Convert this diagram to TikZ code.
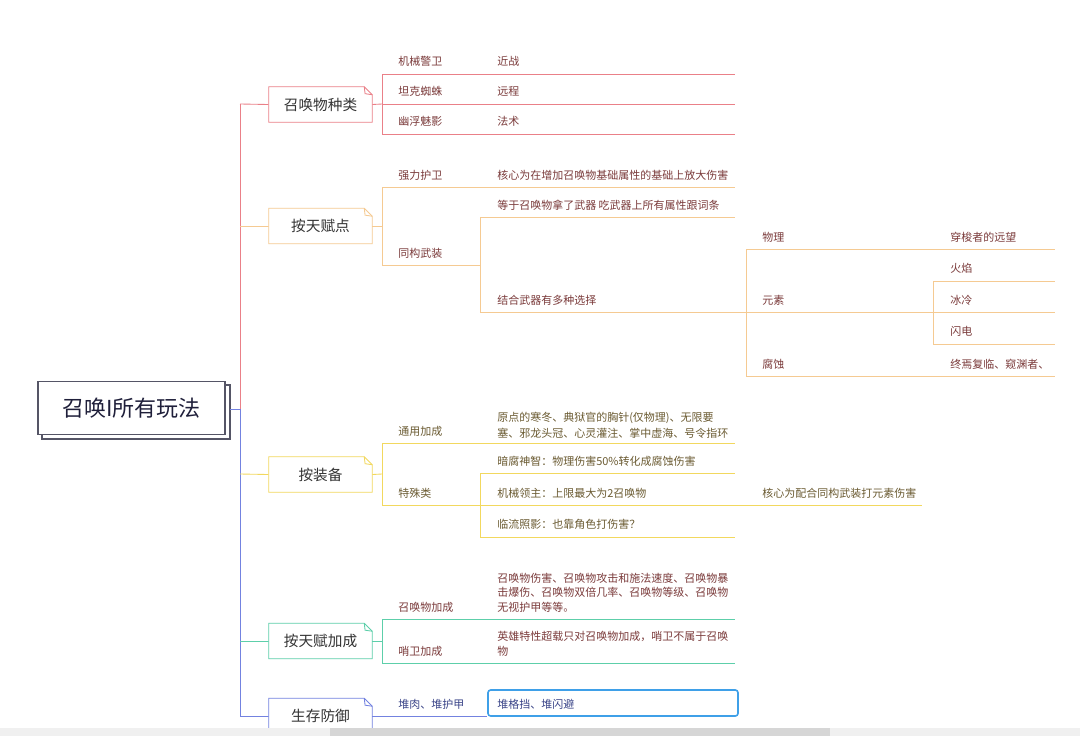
\documentclass[tikz,border=0pt]{standalone}
\usepackage{fontspec}
\newfontfamily\cjk{Noto Sans CJK SC}
\definecolor{cR}{HTML}{EA8088}
\definecolor{cO}{HTML}{F5CA92}
\definecolor{cY}{HTML}{F2D85E}
\definecolor{cG}{HTML}{5DCFAA}
\definecolor{cB}{HTML}{7382E0}
\definecolor{tR}{HTML}{7B3B3B}
\definecolor{tY}{HTML}{6B5B32}
\definecolor{tB}{HTML}{3A4488}
\definecolor{tK}{HTML}{333333}
\definecolor{rootB}{HTML}{555566}
\definecolor{rootT}{HTML}{1F1F3A}
\definecolor{sel}{HTML}{3FA0E8}
\definecolor{sbL}{HTML}{F0F0F0}
\definecolor{sbD}{HTML}{D6D6D6}
\tikzset{
  ln/.style={line width=0.65pt},
  lbl/.style={anchor=west, inner sep=0pt, font=\cjk\fontsize{8.25pt}{11.25pt}\selectfont},
  brtext/.style={inner sep=0pt, minimum width=77.25pt, minimum height=26.25pt, font=\cjk\fontsize{11pt}{13pt}\selectfont, text=tK},
}
\newcommand{\notebox}[2]{%
  \draw[ln,#2,fill=white] (#1.north west) -- ([xshift=-6pt]#1.north east) -- ([yshift=-6pt]#1.north east) -- (#1.south east) -- (#1.south west) -- cycle;
  \draw[ln,#2] ([xshift=-6pt]#1.north east) -- ([xshift=-5.4pt,yshift=-5.2pt]#1.north east) -- ([yshift=-6pt]#1.north east);
}
\begin{document}
\begin{tikzpicture}[x=0.75pt,y=-0.75pt]
\useasboundingbox[fill=white] (0,0) rectangle (1080,736);

% ---------- root ----------
\draw[line width=0.8pt, rootB, fill=white] (42,385) rectangle (230,439);
\node[draw=rootB, line width=0.8pt, fill=white, minimum width=140.25pt, minimum height=39.75pt, inner sep=0pt,
      font=\cjk\fontsize{16.5pt}{19pt}\selectfont, text=rootT] (root) at (131.5,408) {召唤I所有玩法};
\coordinate (rootR) at (230,409);
\coordinate (sp) at (240,409);
\coordinate (spTop) at (240,104);
\coordinate (spBot) at (240,716);
\draw[ln,cB] (rootR) -- (sp);
\draw[ln,cR] (sp) -- (spTop);
\draw[ln,cB] (sp) -- (spBot);

% ---------- branch boxes ----------
\node[brtext] (b1) at (320.5,104.5) {召唤物种类};
\node[brtext] (b2) at (320.5,226) {按天赋点};
\node[brtext] (b3) at (320.5,474.5) {按装备};
\node[brtext] (b4) at (320.5,641) {按天赋加成};
\node[brtext] (b5) at (320.5,716) {生存防御};
\draw[ln,cR] (spTop) -- (b1.west);
\draw[ln,cO] (240,226) -- (b2.west);
\draw[ln,cY] (240,474) -- (b3.west);
\draw[ln,cG] (240,641) -- (b4.west);
\draw[ln,cB] (spBot) -- (b5.west);
\notebox{b1}{cR}
\notebox{b2}{cO}
\notebox{b3}{cY}
\notebox{b4}{cG}
\notebox{b5}{cB}
\node[brtext] at (b1) {召唤物种类};
\node[brtext] at (b2) {按天赋点};
\node[brtext] at (b3) {按装备};
\node[brtext] at (b4) {按天赋加成};
\node[brtext] at (b5) {生存防御};

% ---------- branch 1: red ----------
\coordinate (r1) at (382,74);
\coordinate (r2) at (382,104);
\coordinate (r3) at (382,134);
\draw[ln,cR] (b1.east) -- (r2);
\draw[ln,cR] (r1) -- (r3);
\draw[ln,cR] (r1) -- (735,74);
\draw[ln,cR] (r2) -- (735,104);
\draw[ln,cR] (r3) -- (735,134);
\node[lbl,text=tR] (n11) at (398,61) {机械警卫};
\node[lbl,text=tR] (n12) at (398,91) {坦克蜘蛛};
\node[lbl,text=tR] (n13) at (398,121) {幽浮魅影};
\node[lbl,text=tR] (n111) at (497,61) {近战};
\node[lbl,text=tR] (n121) at (497,91) {远程};
\node[lbl,text=tR] (n131) at (497,121) {法术};

% ---------- branch 2: orange ----------
\coordinate (o1) at (382,187);
\coordinate (o2) at (382,265);
\draw[ln,cO] (b2.east) -- (382,226);
\draw[ln,cO] (o1) -- (o2);
\draw[ln,cO] (o1) -- (735,187);
\node[lbl,text=tR] (n21) at (398,175) {强力护卫};
\node[lbl,text=tR] (n211) at (497,175) {核心为在增加召唤物基础属性的基础上放大伤害};
\coordinate (o3) at (480,265);
\draw[ln,cO] (o2) -- (o3);
\node[lbl,text=tR] (n22) at (398,253) {同构武装};
\coordinate (o4) at (480,217);
\coordinate (o5) at (480,312);
\draw[ln,cO] (o4) -- (o5);
\draw[ln,cO] (o4) -- (735,217);
\node[lbl,text=tR] (n221) at (497,205) {等于召唤物拿了武器 吃武器上所有属性跟词条};
\coordinate (o6) at (746,312);
\draw[ln,cO] (o5) -- (o6);
\node[lbl,text=tR] (n222) at (497,300) {结合武器有多种选择};
\coordinate (o7) at (746,249);
\coordinate (o8) at (746,376);
\draw[ln,cO] (o7) -- (o8);
\draw[ln,cO] (o7) -- (1055,249);
\node[lbl,text=tR] (n2221) at (762,237) {物理};
\node[lbl,text=tR] (n22211) at (950,237) {穿梭者的远望};
\coordinate (o9) at (933,312);
\draw[ln,cO] (o6) -- (o9);
\node[lbl,text=tR] (n2222) at (762,300) {元素};
\coordinate (o10) at (933,281);
\coordinate (o11) at (933,344);
\draw[ln,cO] (o10) -- (o11);
\draw[ln,cO] (o10) -- (1055,281);
\draw[ln,cO] (o9) -- (1055,312);
\draw[ln,cO] (o11) -- (1055,344);
\node[lbl,text=tR] (n22221) at (950,268) {火焰};
\node[lbl,text=tR] (n22222) at (950,300) {冰冷};
\node[lbl,text=tR] (n22223) at (950,331) {闪电};
\draw[ln,cO] (o8) -- (1055,376);
\node[lbl,text=tR] (n2223) at (762,364) {腐蚀};
\node[lbl,text=tR] (n22231) at (950,364) {终焉复临、窥渊者、};

% ---------- branch 3: yellow ----------
\coordinate (y1) at (382,443);
\coordinate (y2) at (382,505);
\draw[ln,cY] (b3.east) -- (382,474);
\draw[ln,cY] (y1) -- (y2);
\draw[ln,cY] (y1) -- (735,443);
\node[lbl,text=tY] (n31) at (398,431) {通用加成};
\node[lbl,text=tY,align=left,font=\cjk\fontsize{8.25pt}{12pt}\selectfont] (n311) at (497,425)
  {原点的寒冬、典狱官的胸针(仅物理)、无限要\\塞、邪龙头冠、心灵灌注、掌中虚海、号令指环};
\coordinate (y3) at (480,505);
\draw[ln,cY] (y2) -- (y3);
\node[lbl,text=tY] (n32) at (398,493) {特殊类};
\coordinate (y4) at (480,473);
\coordinate (y5) at (480,537);
\draw[ln,cY] (y4) -- (y5);
\draw[ln,cY] (y4) -- (735,473);
\draw[ln,cY] (y3) -- (922,505);
\draw[ln,cY] (y5) -- (735,537);
\node[lbl,text=tY] (n321) at (497,461) {暗腐神智：物理伤害50\%转化成腐蚀伤害};
\node[lbl,text=tY] (n322) at (497,493) {机械领主：上限最大为2召唤物};
\node[lbl,text=tY] (n3221) at (762,493) {核心为配合同构武装打元素伤害};
\node[lbl,text=tY] (n323) at (497,524) {临流照影：也靠角色打伤害？};

% ---------- branch 4: green ----------
\coordinate (g1) at (382,619);
\coordinate (g2) at (382,663);
\draw[ln,cG] (b4.east) -- (382,641);
\draw[ln,cG] (g1) -- (g2);
\draw[ln,cG] (g1) -- (735,619);
\draw[ln,cG] (g2) -- (735,663);
\node[lbl,text=tR] (n41) at (398,607) {召唤物加成};
\node[lbl,text=tR,align=left,font=\cjk\fontsize{8.25pt}{10.9pt}\selectfont] (n411) at (497,592.5)
  {召唤物伤害、召唤物攻击和施法速度、召唤物暴\\击爆伤、召唤物双倍几率、召唤物等级、召唤物\\无视护甲等等。};
\node[lbl,text=tR] (n42) at (398,651) {哨卫加成};
\node[lbl,text=tR,align=left,font=\cjk\fontsize{8.25pt}{11.25pt}\selectfont] (n421) at (497,643.5)
  {英雄特性超载只对召唤物加成，哨卫不属于召唤\\物};

% ---------- branch 5: blue ----------
\node[lbl,text=tB] (n51) at (398,704) {堆肉、堆护甲};
\node[draw=sel, line width=1.2pt, rounded corners=2pt, minimum width=187.5pt, minimum height=19.5pt, inner sep=0pt] (n511) at (613,703) {};
\node[lbl,text=tB] (n511t) at (497,704) {堆格挡、堆闪避};
\draw[ln,cB] (b5.east) -- (n511.west |- b5.east);

% ---------- scrollbar ----------
\fill[sbL] (0,728) rectangle (1080,736);
\fill[sbD] (330,728) rectangle (830,736);
\end{tikzpicture}
\end{document}
